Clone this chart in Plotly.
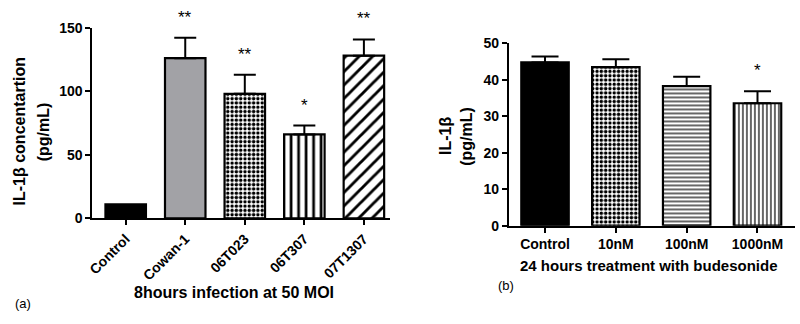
import plotly.graph_objects as go

# Panel (a)
cats_a = ["Control", "Cowan-1", "06T023", "06T307", "07T1307"]
vals_a = [11, 126, 98, 66, 128]
err_a = [0, 16, 15, 7, 12.7]
stars_a = ["", "**", "**", "*", "**"]

# Panel (b)
cats_b = ["Control", "10nM", "100nM", "1000nM"]
vals_b = [44.8, 43.5, 38.3, 33.6]
err_b = [1.6, 2.2, 2.6, 3.3]
stars_b = ["", "", "", "*"]

# styles per bar (fill colour, pattern shape, pattern size, solidity)
style_a = [("black", "", 6, 0.3), ("#a2a2a6", "", 6, 0.3), ("white", ".", 4.3, 0.5),
           ("white", "|", 7.5, 0.36), ("white", "/", 9.5, 0.3)]
style_b = [("black", "", 6, 0.3), ("white", ".", 4.3, 0.5), ("white", "-", 4, 0.3),
           ("white", "|", 4, 0.3)]

FONT = "Liberation Sans"
fig = go.Figure()


def add_bars(cats, vals, errs, styles, xa, ya, capw, width):
    for c, v, e, (col, shp, sz, sol) in zip(cats, vals, errs, styles):
        marker = dict(color=col, line=dict(color="black", width=2.2))
        if shp:
            marker["pattern"] = dict(shape=shp, size=sz, solidity=sol,
                                     fgcolor="black", bgcolor="white",
                                     fillmode="replace")
        fig.add_trace(go.Bar(
            x=[c], y=[v], xaxis=xa, yaxis=ya, width=width, marker=marker,
            error_y=dict(type="data", symmetric=False, array=[e],
                         arrayminus=[0], color="black", thickness=2,
                         width=capw, visible=e > 0),
            showlegend=False,
        ))


add_bars(cats_a, vals_a, err_a, style_a, "x", "y", 11, 0.68)
add_bars(cats_b, vals_b, err_b, style_b, "x2", "y2", 13.5, 0.67)

axis_common = dict(showline=True, linewidth=2, linecolor="black",
                   ticks="outside", ticklen=5, tickwidth=2, tickcolor="black",
                   showgrid=False, zeroline=False,
                   tickfont=dict(family=FONT, size=14, color="black", weight="bold"))

annotations = []
for c, v, e, s in zip(cats_a, vals_a, err_a, stars_a):
    if s:
        annotations.append(dict(x=c, y=v + e, xref="x", yref="y", text=s,
                                showarrow=False, yanchor="bottom", yshift=9,
                                font=dict(family=FONT, size=17, color="black")))
for c, v, e, s in zip(cats_b, vals_b, err_b, stars_b):
    if s:
        annotations.append(dict(x=c, y=v + e, xref="x2", yref="y2", text=s,
                                showarrow=False, yanchor="bottom", yshift=9,
                                font=dict(family=FONT, size=17, color="black")))

ytitle_font = dict(family=FONT, size=16, color="black", weight="bold")
annotations += [
    dict(x=14 / 800, y=1 - 130 / 324, xref="paper", yref="paper",
         text="IL-1β concentartion", textangle=-90, showarrow=False,
         font=ytitle_font, xanchor="center", yanchor="middle"),
    dict(x=38 / 800, y=1 - 130 / 324, xref="paper", yref="paper",
         text="(pg/mL)", textangle=-90, showarrow=False,
         font=ytitle_font, xanchor="center", yanchor="middle"),
    dict(x=230 / 800, y=1 - 299 / 324, xref="paper", yref="paper",
         text="8hours infection at 50 MOI", showarrow=False,
         font=dict(family=FONT, size=16, color="black", weight="bold"),
         xanchor="center", yanchor="middle"),
    dict(x=17 / 800, y=1 - 311 / 324, xref="paper", yref="paper",
         text="(a)", showarrow=False,
         font=dict(family=FONT, size=13, color="black"),
         xanchor="center", yanchor="middle"),
    dict(x=443 / 800, y=1 - 135 / 324, xref="paper", yref="paper",
         text="IL-1β", textangle=-90, showarrow=False,
         font=ytitle_font, xanchor="center", yanchor="middle"),
    dict(x=464 / 800, y=1 - 135 / 324, xref="paper", yref="paper",
         text="(pg/mL)", textangle=-90, showarrow=False,
         font=ytitle_font, xanchor="center", yanchor="middle"),
    dict(x=648 / 800, y=1 - 271 / 324, xref="paper", yref="paper",
         text="24 hours treatment with budesonide", showarrow=False,
         font=dict(family=FONT, size=15, color="black", weight="bold"),
         xanchor="center", yanchor="middle"),
    dict(x=504 / 800, y=1 - 292 / 324, xref="paper", yref="paper",
         text="(b)", showarrow=False,
         font=dict(family=FONT, size=13, color="black"),
         xanchor="center", yanchor="middle"),
]

fig.update_layout(
    width=800, height=324,
    margin=dict(l=0, r=0, t=0, b=0),
    paper_bgcolor="white", plot_bgcolor="white",
    barmode="overlay",
    xaxis=dict(domain=[87 / 800, 387 / 800], anchor="y",
               range=[-0.56, 4.44], tickangle=-45,
               categoryorder="array", categoryarray=cats_a, **axis_common),
    yaxis=dict(domain=[(324 - 221.3) / 324, (324 - 20.7) / 324], anchor="x",
               range=[0, 150], tickvals=[0, 50, 100, 150], **axis_common),
    xaxis2=dict(domain=[506.7 / 800, 795 / 800], anchor="y2",
                range=[-0.51, 3.53], tickangle=0,
                categoryorder="array", categoryarray=cats_b, **axis_common),
    yaxis2=dict(domain=[(324 - 229) / 324, (324 - 37.3) / 324], anchor="x2",
                range=[0, 50], tickvals=[0, 10, 20, 30, 40, 50], **axis_common),
    annotations=annotations,
)

fig.write_html("out.html")
